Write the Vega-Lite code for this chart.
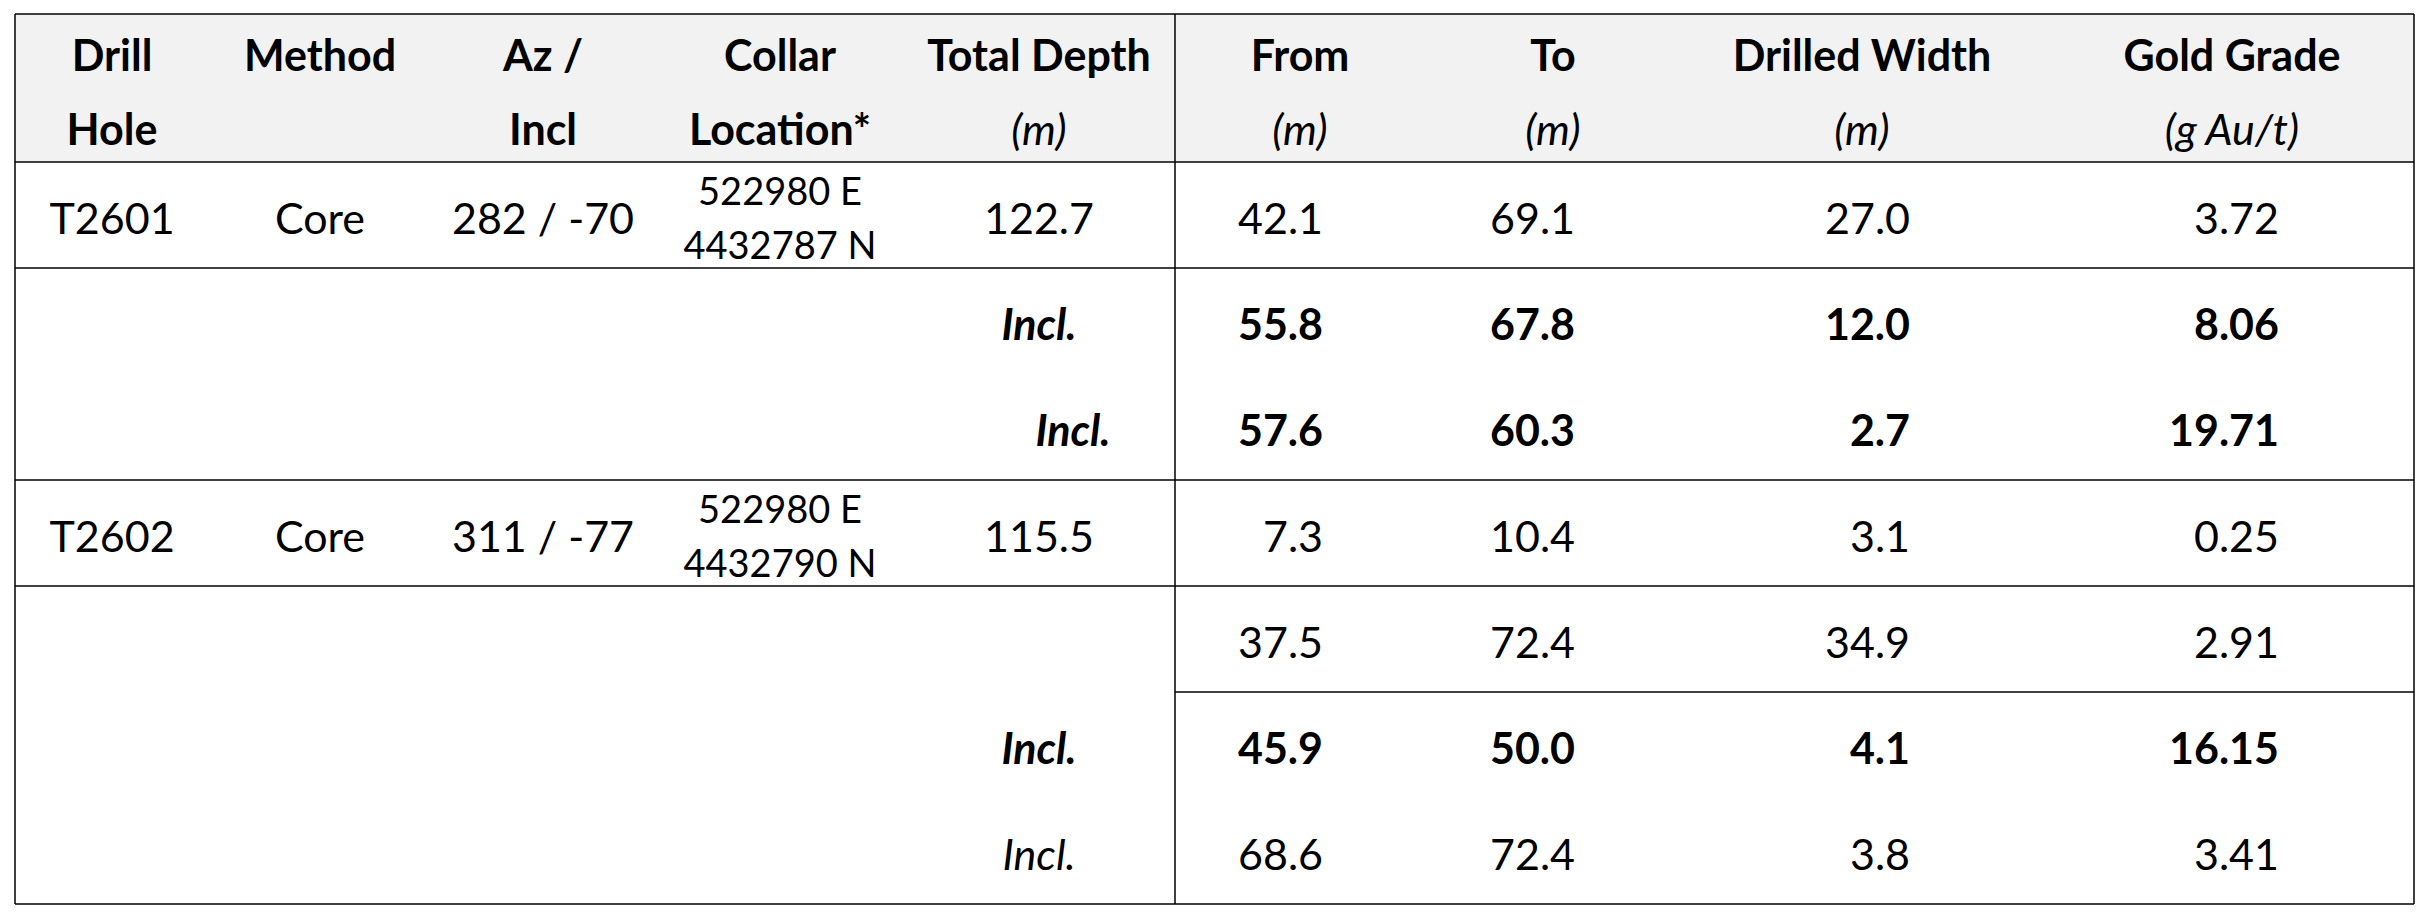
{
  "$schema": "https://vega.github.io/schema/vega-lite/v6.json",
  "description": "Drill hole intercepts table, T2601 and T2602",
  "width": 2428,
  "height": 918,
  "autosize": "none",
  "padding": 0,
  "datasets": {
    "cells": [
      {"line": -1, "col": 1, "text": "Drill"},
      {"line": -1, "col": 2, "text": "Method"},
      {"line": -1, "col": 3, "text": "Az /"},
      {"line": -1, "col": 4, "text": "Collar"},
      {"line": -1, "col": 5, "text": "Total Depth"},
      {"line": -1, "col": 6, "text": "From"},
      {"line": -1, "col": 7, "text": "To"},
      {"line": -1, "col": 8, "text": "Drilled Width"},
      {"line": -1, "col": 9, "text": "Gold Grade"},
      {"line": 0, "col": 1, "text": "Hole"},
      {"line": 0, "col": 3, "text": "Incl"},
      {"line": 0, "col": 4, "text": "Location*"},
      {"line": 0, "col": 5, "text": "(m)"},
      {"line": 0, "col": 6, "text": "(m)"},
      {"line": 0, "col": 7, "text": "(m)"},
      {"line": 0, "col": 8, "text": "(m)"},
      {"line": 0, "col": 9, "text": "(g Au/t)"},
      {"line": 1, "col": 1, "text": "T2601"},
      {"line": 1, "col": 2, "text": "Core"},
      {"line": 1, "col": 3, "text": "282 / -70"},
      {"line": 1, "col": 4, "text": "522980 E\n4432787 N"},
      {"line": 1, "col": 5, "text": "122.7"},
      {"line": 1, "col": 6, "text": "42.1"},
      {"line": 1, "col": 7, "text": "69.1"},
      {"line": 1, "col": 8, "text": "27.0"},
      {"line": 1, "col": 9, "text": "3.72"},
      {"line": 2, "col": 5, "text": "Incl."},
      {"line": 2, "col": 6, "text": "55.8"},
      {"line": 2, "col": 7, "text": "67.8"},
      {"line": 2, "col": 8, "text": "12.0"},
      {"line": 2, "col": 9, "text": "8.06"},
      {"line": 3, "col": 5, "text": "Incl."},
      {"line": 3, "col": 6, "text": "57.6"},
      {"line": 3, "col": 7, "text": "60.3"},
      {"line": 3, "col": 8, "text": "2.7"},
      {"line": 3, "col": 9, "text": "19.71"},
      {"line": 4, "col": 1, "text": "T2602"},
      {"line": 4, "col": 2, "text": "Core"},
      {"line": 4, "col": 3, "text": "311 / -77"},
      {"line": 4, "col": 4, "text": "522980 E\n4432790 N"},
      {"line": 4, "col": 5, "text": "115.5"},
      {"line": 4, "col": 6, "text": "7.3"},
      {"line": 4, "col": 7, "text": "10.4"},
      {"line": 4, "col": 8, "text": "3.1"},
      {"line": 4, "col": 9, "text": "0.25"},
      {"line": 5, "col": 6, "text": "37.5"},
      {"line": 5, "col": 7, "text": "72.4"},
      {"line": 5, "col": 8, "text": "34.9"},
      {"line": 5, "col": 9, "text": "2.91"},
      {"line": 6, "col": 5, "text": "Incl."},
      {"line": 6, "col": 6, "text": "45.9"},
      {"line": 6, "col": 7, "text": "50.0"},
      {"line": 6, "col": 8, "text": "4.1"},
      {"line": 6, "col": 9, "text": "16.15"},
      {"line": 7, "col": 5, "text": "Incl."},
      {"line": 7, "col": 6, "text": "68.6"},
      {"line": 7, "col": 7, "text": "72.4"},
      {"line": 7, "col": 8, "text": "3.8"},
      {"line": 7, "col": 9, "text": "3.41"}
    ],
    "grid": [
      {"col": 0.5, "col2": 9.5, "line": -1.6, "line2": -1.6},
      {"col": 0.5, "col2": 9.5, "line": 0.5, "line2": 0.5},
      {"col": 0.5, "col2": 9.5, "line": 1.5, "line2": 1.5},
      {"col": 0.5, "col2": 9.5, "line": 3.5, "line2": 3.5},
      {"col": 0.5, "col2": 9.5, "line": 4.5, "line2": 4.5},
      {"col": 5.5, "col2": 9.5, "line": 5.5, "line2": 5.5},
      {"col": 0.5, "col2": 9.5, "line": 7.5, "line2": 7.5},
      {"col": 0.5, "col2": 0.5, "line": -1.6, "line2": 7.5},
      {"col": 5.5, "col2": 5.5, "line": -1.6, "line2": 7.5},
      {"col": 9.5, "col2": 9.5, "line": -1.6, "line2": 7.5}
    ],
    "head": [
      {"col": 0.5, "col2": 9.5, "line": -1.6, "line2": 0.5}
    ]
  },
  "encoding": {
    "y": {
      "field": "line",
      "type": "quantitative",
      "scale": {"domain": [-1.6, -1, 0, 0.5, 7.5], "range": [14, 52, 126, 162, 904], "nice": false, "zero": false},
      "axis": null
    }
  },
  "layer": [
    {
      "data": {"name": "head"},
      "mark": {"type": "rect", "fill": "#F2F2F2"},
      "encoding": {
        "x": {"field": "col", "type": "quantitative", "scale": {"domain": [0.5, 5.5, 9.5], "range": [15, 1175, 2414], "nice": false, "zero": false}, "axis": null},
        "x2": {"field": "col2"},
        "y2": {"field": "line2"}
      }
    },
    {
      "data": {"name": "grid"},
      "mark": {"type": "rule", "color": "black", "strokeWidth": 1.5},
      "encoding": {
        "x": {"field": "col", "type": "quantitative", "scale": {"domain": [0.5, 5.5, 9.5], "range": [15, 1175, 2414], "nice": false, "zero": false}, "axis": null},
        "x2": {"field": "col2"},
        "y2": {"field": "line2"}
      }
    },
    {
      "data": {"name": "cells"},
      "transform": [{"filter": "datum.line <= 0 && !(datum.line == 0 && datum.col >= 5)"}],
      "mark": {"type": "text", "fontSize": 43, "fontWeight": "bold", "align": "center", "baseline": "middle"},
      "encoding": {
        "x": {"field": "col", "type": "quantitative", "scale": {"domain": [1, 2, 3, 4, 5, 6, 7, 8, 9], "range": [112, 320, 543, 780, 1039, 1300, 1553, 1862, 2232], "nice": false, "zero": false}, "axis": null},
        "text": {"field": "text"}
      }
    },
    {
      "data": {"name": "cells"},
      "transform": [{"filter": "datum.line == 0 && datum.col >= 5"}],
      "mark": {"type": "text", "fontSize": 43, "fontStyle": "italic", "align": "center", "baseline": "middle"},
      "encoding": {
        "x": {"field": "col", "type": "quantitative", "scale": {"domain": [1, 2, 3, 4, 5, 6, 7, 8, 9], "range": [112, 320, 543, 780, 1039, 1300, 1553, 1862, 2232], "nice": false, "zero": false}, "axis": null},
        "text": {"field": "text"}
      }
    },
    {
      "data": {"name": "cells"},
      "transform": [{"filter": "datum.line >= 1 && datum.col <= 5 && datum.col != 4 && datum.text != 'Incl.'"}],
      "mark": {"type": "text", "fontSize": 43, "align": "center", "baseline": "middle"},
      "encoding": {
        "x": {"field": "col", "type": "quantitative", "scale": {"domain": [1, 2, 3, 4, 5], "range": [112, 320, 543, 780, 1039], "nice": false, "zero": false}, "axis": null},
        "text": {"field": "text"}
      }
    },
    {
      "data": {"name": "cells"},
      "transform": [{"filter": "datum.line >= 1 && datum.col == 4"}],
      "mark": {"type": "text", "fontSize": 38, "lineBreak": "\n", "lineHeight": 54, "align": "center", "baseline": "middle", "dy": -21},
      "encoding": {
        "x": {"field": "col", "type": "quantitative", "scale": {"domain": [1, 2, 3, 4, 5], "range": [112, 320, 543, 780, 1039], "nice": false, "zero": false}, "axis": null},
        "text": {"field": "text"}
      }
    },
    {
      "data": {"name": "cells"},
      "transform": [{"filter": "datum.text == 'Incl.' && (datum.line == 2 || datum.line == 6)"}],
      "mark": {"type": "text", "fontSize": 43, "fontWeight": "bold", "fontStyle": "italic", "align": "center", "baseline": "middle"},
      "encoding": {
        "x": {"field": "col", "type": "quantitative", "scale": {"domain": [1, 2, 3, 4, 5], "range": [112, 320, 543, 780, 1039], "nice": false, "zero": false}, "axis": null},
        "text": {"field": "text"}
      }
    },
    {
      "data": {"name": "cells"},
      "transform": [{"filter": "datum.text == 'Incl.' && datum.line == 3"}],
      "mark": {"type": "text", "fontSize": 43, "fontWeight": "bold", "fontStyle": "italic", "align": "center", "baseline": "middle", "dx": 34},
      "encoding": {
        "x": {"field": "col", "type": "quantitative", "scale": {"domain": [1, 2, 3, 4, 5], "range": [112, 320, 543, 780, 1039], "nice": false, "zero": false}, "axis": null},
        "text": {"field": "text"}
      }
    },
    {
      "data": {"name": "cells"},
      "transform": [{"filter": "datum.text == 'Incl.' && datum.line == 7"}],
      "mark": {"type": "text", "fontSize": 43, "fontStyle": "italic", "align": "center", "baseline": "middle"},
      "encoding": {
        "x": {"field": "col", "type": "quantitative", "scale": {"domain": [1, 2, 3, 4, 5], "range": [112, 320, 543, 780, 1039], "nice": false, "zero": false}, "axis": null},
        "text": {"field": "text"}
      }
    },
    {
      "data": {"name": "cells"},
      "transform": [{"filter": "datum.line >= 1 && datum.col >= 6 && datum.line != 2 && datum.line != 3 && datum.line != 6"}],
      "mark": {"type": "text", "fontSize": 43, "align": "right", "baseline": "middle"},
      "encoding": {
        "x": {"field": "col", "type": "quantitative", "scale": {"domain": [6, 7, 8, 9], "range": [1323, 1575, 1910, 2279], "nice": false, "zero": false}, "axis": null},
        "text": {"field": "text"}
      }
    },
    {
      "data": {"name": "cells"},
      "transform": [{"filter": "datum.col >= 6 && (datum.line == 2 || datum.line == 3 || datum.line == 6)"}],
      "mark": {"type": "text", "fontSize": 43, "fontWeight": "bold", "align": "right", "baseline": "middle"},
      "encoding": {
        "x": {"field": "col", "type": "quantitative", "scale": {"domain": [6, 7, 8, 9], "range": [1323, 1575, 1910, 2279], "nice": false, "zero": false}, "axis": null},
        "text": {"field": "text"}
      }
    }
  ],
  "resolve": {"scale": {"x": "independent"}},
  "config": {
    "font": "Lato",
    "view": {"stroke": null},
    "text": {"color": "black", "dy": 6}
  }
}
